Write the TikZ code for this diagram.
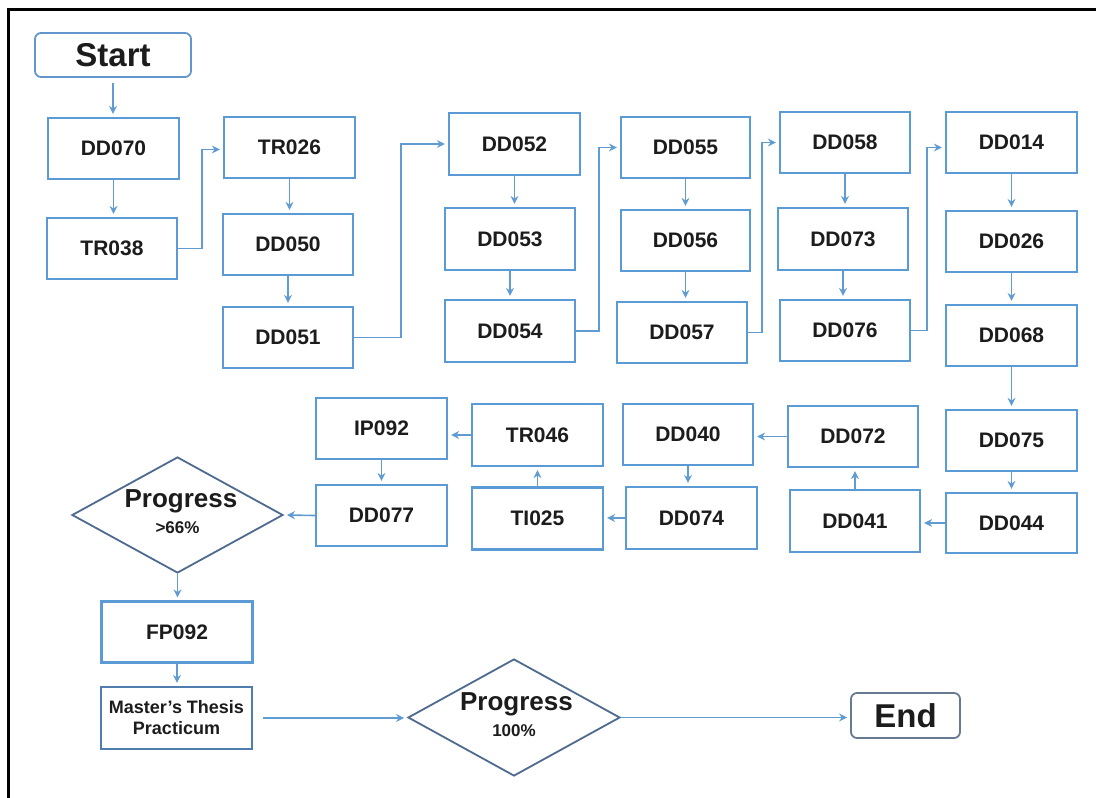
\documentclass[tikz,border=0pt]{standalone}
\usepackage{fontspec}
\setmainfont{Liberation Sans}
\usetikzlibrary{shapes.geometric,arrows.meta}
\definecolor{boxblue}{RGB}{91,155,213}
\definecolor{arrblue}{RGB}{96,155,210}
\definecolor{diaedge}{RGB}{78,106,142}
\definecolor{startedge}{RGB}{100,150,205}
\definecolor{endedge}{RGB}{104,122,146}
\definecolor{mtpedge}{RGB}{80,125,175}
\definecolor{txt}{RGB}{28,28,28}
\newcommand\dtext[3]{\smash{\makebox[0pt]{\hspace*{#3}\raisebox{7.5pt}{\fontsize{26}{28}\selectfont #1}}}\smash{\makebox[0pt]{\raisebox{-18.5pt}{\fontsize{17}{19}\selectfont #2}}}}
\begin{document}
\begin{tikzpicture}[x=1pt,y=-1pt,
  stepbox/.style={draw=boxblue, line width=2.2pt, minimum width=131pt, minimum height=61pt, inner sep=0pt,
    font=\bfseries\fontsize{21}{24}\selectfont, text=txt},
  termbox/.style={draw=#1, line width=1.8pt, rounded corners=6pt, inner sep=0pt,
    font=\bfseries\fontsize{33}{36}\selectfont, text=txt},
  dia/.style={draw=diaedge, line width=1.8pt, shape=diamond, inner sep=0pt,
    font=\bfseries, text=txt},
  arr/.style={draw=arrblue, line width=1.6pt, -{Stealth[length=8pt,width=8pt]}, shorten >=3pt}]
\useasboundingbox (0,0) rectangle (1096,798);
\fill[white] (0,0) rectangle (1096,798);
% frame
\draw[black, line width=3pt] (8.5,798) -- (8.5,9.5) -- (1096,9.5);
% terminals
\node[termbox=startedge, minimum width=156pt, minimum height=44pt] (Start) at (113,55) {Start};
\node[termbox=endedge, minimum width=109pt, minimum height=45pt] (End) at (905.5,715.5) {End};
% column 1
\node[stepbox] (DD070) at (113.5,148.5) {DD070};
\node[stepbox, minimum width=130pt] (TR038) at (112,248.5) {TR038};
% column 2
\node[stepbox] (TR026) at (289.5,147.5) {TR026};
\node[stepbox, minimum width=130pt] (DD050) at (288,244.5) {DD050};
\node[stepbox, minimum width=130pt] (DD051) at (288,337.5) {DD051};
% column 3
\node[stepbox, minimum height=62pt] (DD052) at (514.5,144) {DD052};
\node[stepbox, minimum width=130pt, minimum height=62pt] (DD053) at (510,239) {DD053};
\node[stepbox, minimum width=130pt, minimum height=62pt] (DD054) at (510,331) {DD054};
% column 4
\node[stepbox, minimum width=129pt] (DD055) at (685.5,147.5) {DD055};
\node[stepbox, minimum width=129pt] (DD056) at (685.5,240.5) {DD056};
\node[stepbox, minimum width=130pt] (DD057) at (682,332.5) {DD057};
% column 5
\node[stepbox, minimum width=130pt] (DD058) at (845,142.5) {DD058};
\node[stepbox, minimum width=130pt, minimum height=62pt] (DD073) at (843,239) {DD073};
\node[stepbox, minimum width=130pt] (DD076) at (845,330.5) {DD076};
% column 6
\node[stepbox] (DD014) at (1011.5,142.5) {DD014};
\node[stepbox] (DD026) at (1011.5,241.5) {DD026};
\node[stepbox] (DD068) at (1011.5,335.5) {DD068};
\node[stepbox] (DD075) at (1011.5,440.5) {DD075};
\node[stepbox, minimum height=60pt] (DD044) at (1011.5,523) {DD044};
% lower row
\node[stepbox, minimum width=130pt] (DD072) at (853,436.5) {DD072};
\node[stepbox, minimum width=130pt, minimum height=62pt] (DD041) at (855,521) {DD041};
\node[stepbox, minimum width=130pt] (DD040) at (688,434.5) {DD040};
\node[stepbox, minimum height=62pt] (DD074) at (691.5,518) {DD074};
\node[stepbox, minimum height=62pt] (TR046) at (537.5,435) {TR046};
\node[stepbox, minimum height=62pt] (TI025) at (537.5,518.5) {TI025};
\node[stepbox] (IP092) at (381.5,428.5) {IP092};
\node[stepbox] (DD077) at (381.5,515.5) {DD077};
% final part
\node[dia, minimum width=211pt, minimum height=116pt] (D1) at (177.5,515) {\dtext{Progress}{>66\%}{7pt}};
\node[stepbox, minimum width=151pt] (FP092) at (177,632) {FP092};
\node[stepbox, draw=mtpedge, minimum width=151pt, minimum height=62pt, align=center,
  font=\bfseries\fontsize{18}{21}\selectfont] (MTP) at (176.5,718) {Master{\char"0027}s Thesis\\Practicum};
\node[dia, minimum width=212pt, minimum height=117pt] (D2) at (514,717.5) {\dtext{Progress}{100\%}{5pt}};
% connectors
\draw[arr, shorten <=5pt] (Start.south) -- (Start.south |- DD070.north);
\draw[arr] (DD070.south) -- (DD070.south |- TR038.north);
\draw[arr] (TR038.east) -- ++(24,0) |- ([yshift=-2pt]TR026.west);
\draw[arr] (TR026.south) -- (TR026.south |- DD050.north);
\draw[arr] (DD050.south) -- (DD050.south |- DD051.north);
\draw[arr] (DD051.east) -- ++(47,0) |- (DD052.west);
\draw[arr] (DD052.south) -- (DD052.south |- DD053.north);
\draw[arr] (DD053.south) -- (DD053.south |- DD054.north);
\draw[arr] (DD054.east) -- ++(23,0) |- (DD055.west);
\draw[arr] (DD055.south) -- (DD055.south |- DD056.north);
\draw[arr] (DD056.south) -- (DD056.south |- DD057.north);
\draw[arr] (DD057.east) -- ++(14,0) |- (DD058.west);
\draw[arr] (DD058.south) -- (DD058.south |- DD073.north);
\draw[arr] (DD073.south) -- (DD073.south |- DD076.north);
\draw[arr] (DD076.east) -- ++(16,0) |- ([yshift=-5pt]DD014.west);
\draw[arr] (DD014.south) -- (DD014.south |- DD026.north);
\draw[arr] (DD026.south) -- (DD026.south |- DD068.north);
\draw[arr] (DD068.south) -- (DD068.south |- DD075.north);
\draw[arr] (DD075.south) -- (DD075.south |- DD044.north);
\draw[arr] (DD044.west) -- (DD044.west -| DD041.east);
\draw[arr] (DD041.north) -- (DD041.north |- DD072.south);
\draw[arr] (DD072.west) -- (DD072.west -| DD040.east);
\draw[arr] (DD040.south) -- (DD040.south |- DD074.north);
\draw[arr] (DD074.west) -- (DD074.west -| TI025.east);
\draw[arr] (TI025.north) -- (TI025.north |- TR046.south);
\draw[arr] (TR046.west) -- (TR046.west -| IP092.east);
\draw[arr] (IP092.south) -- (IP092.south |- DD077.north);
\draw[arr] (DD077.west) -- (D1.east);
\draw[arr] (D1.south) -- (D1.south |- FP092.north);
\draw[arr] (FP092.south) -- (FP092.south |- MTP.north);
\draw[arr, shorten <=10pt] (MTP.east) -- (MTP.east -| D2.west);
\draw[arr] (D2.east) -- (D2.east -| End.west);
\end{tikzpicture}
\end{document}
